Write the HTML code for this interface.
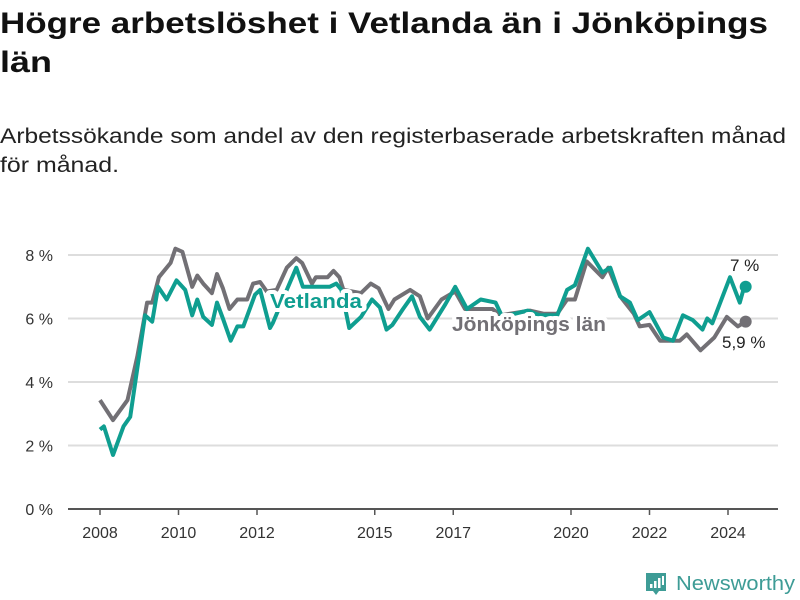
<!DOCTYPE html>
<html><head><meta charset="utf-8"><style>
html,body{margin:0;padding:0;background:#fff;}
svg{display:block;font-family:"Liberation Sans",sans-serif;}
</style></head><body>
<svg id="chart" width="800" height="600" viewBox="0 0 800 600">
<text x="0" y="33" font-size="30" font-weight="bold" fill="#111" textLength="768" lengthAdjust="spacingAndGlyphs">Högre arbetslöshet i Vetlanda än i Jönköpings</text>
<text x="0" y="72" font-size="30" font-weight="bold" fill="#111" textLength="52" lengthAdjust="spacingAndGlyphs">län</text>
<text x="0" y="143" font-size="21" fill="#222" textLength="786" lengthAdjust="spacingAndGlyphs">Arbetssökande som andel av den registerbaserade arbetskraften månad</text>
<text x="0" y="172" font-size="21" fill="#222" textLength="119" lengthAdjust="spacingAndGlyphs">för månad.</text>
<g id="grid"></g><g id="xaxis"></g><g id="lines"></g><g id="labels"></g>
<g>
<path d="M646 573 h20 v18 h-7 l-3 4 l-3 -4 h-7 z" fill="#3e9c96"/>
<rect x="650" y="584" width="2.5" height="4" fill="#fff"/><rect x="654" y="581" width="2.5" height="7" fill="#fff"/><rect x="658" y="578" width="2.5" height="10" fill="#fff"/><rect x="662" y="576" width="2" height="9" fill="#fff"/>
<text x="676" y="590" font-size="20" fill="#3e9c96" textLength="119" lengthAdjust="spacingAndGlyphs">Newsworthy</text>
</g>
</svg>
<script>
const yTicks=[0,2,4,6,8];
const xTicks=[2008,2010,2012,2015,2017,2020,2022,2024];
const jkpT=[2008.0,2008.33,2008.7,2008.95,2009.2,2009.33,2009.5,2009.8,2009.92,2010.1,2010.35,2010.48,2010.63,2010.85,2010.98,2011.13,2011.3,2011.5,2011.75,2011.9,2012.08,2012.25,2012.5,2012.76,2013.0,2013.15,2013.4,2013.5,2013.8,2013.95,2014.1,2014.2,2014.65,2014.9,2015.1,2015.35,2015.5,2015.9,2016.15,2016.35,2016.7,2017.05,2017.3,2017.6,2018.0,2018.2,2018.95,2019.3,2019.65,2019.9,2020.1,2020.4,2020.8,2020.95,2021.25,2021.6,2021.75,2022.0,2022.27,2022.77,2022.95,2023.3,2023.65,2023.97,2024.25,2024.45];
const jkpV=[3.43,2.8,3.43,4.8,6.5,6.5,7.3,7.75,8.2,8.1,7.0,7.35,7.1,6.8,7.4,6.95,6.3,6.6,6.6,7.1,7.15,6.85,6.9,7.6,7.9,7.75,7.1,7.3,7.3,7.5,7.3,6.9,6.8,7.1,6.95,6.3,6.6,6.9,6.7,6.0,6.6,6.85,6.3,6.3,6.3,6.1,6.25,6.15,6.15,6.6,6.6,7.8,7.3,7.6,6.7,6.15,5.75,5.8,5.3,5.3,5.5,5.0,5.4,6.05,5.75,5.9];
const vetT=[2008.0,2008.1,2008.33,2008.6,2008.77,2008.97,2009.15,2009.33,2009.48,2009.7,2009.95,2010.17,2010.35,2010.48,2010.63,2010.85,2010.98,2011.13,2011.33,2011.5,2011.65,2011.95,2012.08,2012.33,2012.4,2012.76,2013.0,2013.17,2013.85,2014.02,2014.15,2014.35,2014.65,2014.93,2015.13,2015.3,2015.45,2015.72,2015.95,2016.15,2016.4,2016.8,2017.05,2017.35,2017.7,2018.08,2018.25,2018.9,2019.2,2019.65,2019.9,2020.1,2020.43,2020.8,2021.0,2021.25,2021.5,2021.7,2022.0,2022.35,2022.6,2022.85,2023.1,2023.35,2023.47,2023.6,2024.05,2024.3,2024.38,2024.45];
const vetV=[2.5,2.6,1.7,2.6,2.9,4.6,6.1,5.9,7.0,6.6,7.2,6.9,6.1,6.6,6.05,5.8,6.5,6.0,5.3,5.75,5.75,6.75,6.9,5.7,5.85,6.9,7.6,7.0,7.0,7.1,6.9,5.7,6.05,6.6,6.35,5.65,5.8,6.3,6.7,6.05,5.65,6.45,7.0,6.3,6.6,6.5,6.05,6.25,6.1,6.1,6.9,7.05,8.2,7.45,7.6,6.7,6.5,5.95,6.2,5.4,5.3,6.1,5.95,5.65,6.0,5.85,7.3,6.5,6.85,7.0];
const NS='http://www.w3.org/2000/svg';
const X=t=>100+(t-2008)*39.25;
const Y=v=>509-v*31.75;
function mk(tag,attrs,parent){const e=document.createElementNS(NS,tag);for(const k in attrs)e.setAttribute(k,attrs[k]);parent.appendChild(e);return e;}
const grid=document.getElementById('grid');
yTicks.forEach(v=>{
  const l=mk('line',{x1:68,x2:778,y1:Y(v),y2:Y(v),stroke:v===0?'#555':'#ddd','stroke-width':2},grid);
  
  
  const t=mk('text',{x:53,y:Y(v)+6,'text-anchor':'end','font-size':16,fill:'#333'},grid);
  t.textContent=v+' %';
  
  
});
const xa=document.getElementById('xaxis');
xTicks.forEach(y=>{
  const l=mk('line',{x1:X(y),x2:X(y),y1:509,y2:515,stroke:'#555','stroke-width':1.5},xa);
  
  
  const t=mk('text',{x:X(y),y:538,'text-anchor':'middle','font-size':16,fill:'#333'},xa);
  t.textContent=y;
  
  
});
const lines=document.getElementById('lines');
function path(T,V){return T.map((t,i)=>(i?'L':'M')+X(t).toFixed(1)+' '+Y(V[i]).toFixed(1)).join(' ');}
const pj=mk('path',{d:path(jkpT,jkpV),fill:'none',stroke:'#727075','stroke-width':4,'stroke-linejoin':'round'},lines);


const pv=mk('path',{d:path(vetT,vetV),fill:'none',stroke:'#0f9e90','stroke-width':4,'stroke-linejoin':'round'},lines);


const dj=mk('circle',{cx:X(jkpT[jkpT.length-1]),cy:Y(jkpV[jkpV.length-1]),r:6,fill:'#727075'},lines);


const dv=mk('circle',{cx:X(vetT[vetT.length-1]),cy:Y(vetV[vetV.length-1]),r:6,fill:'#0f9e90'},lines);


const lab=document.getElementById('labels');
function label(txt,x,y,fill,size,bold,halo,name,len){
  const a={x:x,y:y,'font-size':size,'font-weight':bold?'bold':'normal',fill:fill,stroke:halo?'#fff':'none','stroke-width':halo?8:0,'paint-order':'stroke','stroke-linejoin':'round'};
  if(len){a.textLength=len;a.lengthAdjust='spacingAndGlyphs';}
  const t=mk('text',a,lab);
  t.textContent=txt;
  
  
  return t;
}
label('Vetlanda',270,308,'#0f9e90',20,true,true,'vetlanda-label',92);
label('Jönköpings län',452,331,'#727075',20,true,true,'jonkopings-lan-label',154);
label('7 %',730,271,'#222',17,false,false,'vetlanda-value-label');
label('5,9 %',722,348,'#222',17,false,false,'jonkopings-value-label');
</script>
</body></html>
